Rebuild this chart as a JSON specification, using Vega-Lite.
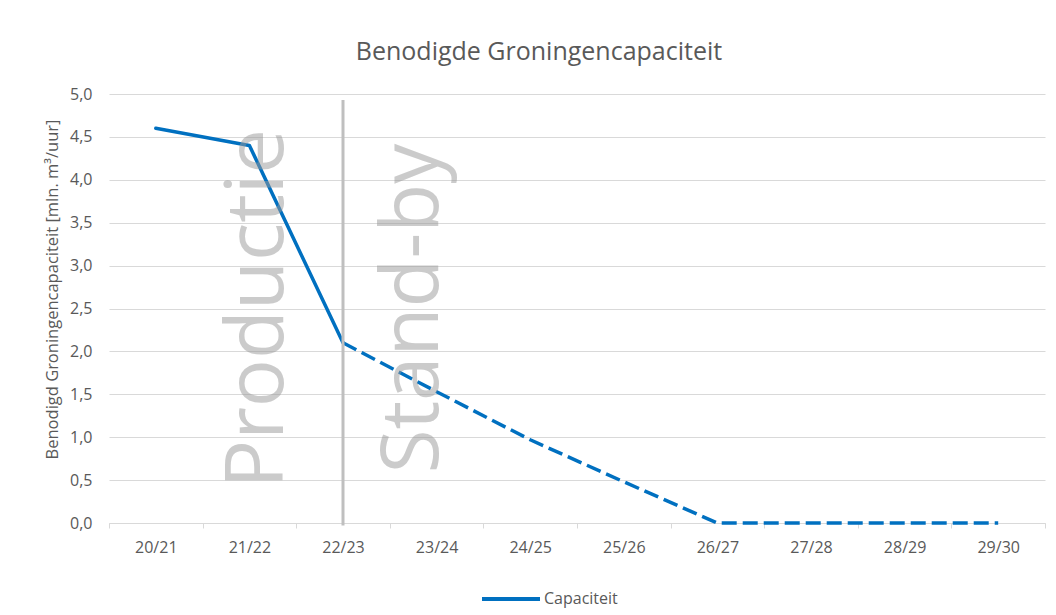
{
  "$schema": "https://vega.github.io/schema/vega-lite/v6.json",
  "autosize": {"type": "none"},
  "width": 936,
  "height": 429,
  "padding": {"left": 109, "top": 94, "right": 11, "bottom": 92},
  "background": "white",
  "title": {
    "text": "Benodigde Groningencapaciteit",
    "fontSize": 25,
    "font": "Open Sans",
    "fontWeight": "normal",
    "color": "#595959",
    "anchor": "middle",
    "frame": "group",
    "dx": -38,
    "baseline": "alphabetic",
    "offset": 1
  },
  "datasets": {
    "capaciteit": [
      {"jaar": "20/21", "waarde": 4.6, "deel": "productie"},
      {"jaar": "21/22", "waarde": 4.4, "deel": "productie"},
      {"jaar": "22/23", "waarde": 2.1, "deel": "productie"},
      {"jaar": "22/23", "waarde": 2.1, "deel": "standby"},
      {"jaar": "23/24", "waarde": 1.53, "deel": "standby"},
      {"jaar": "24/25", "waarde": 0.97, "deel": "standby"},
      {"jaar": "25/26", "waarde": 0.48, "deel": "standby"},
      {"jaar": "26/27", "waarde": 0, "deel": "standby"},
      {"jaar": "27/28", "waarde": 0, "deel": "standby"},
      {"jaar": "28/29", "waarde": 0, "deel": "standby"},
      {"jaar": "29/30", "waarde": 0, "deel": "standby"}
    ],
    "scheiding": [
      {"jaar": "22/23", "boven": 4.93, "onder": -0.03}
    ],
    "labels": [
      {"jaar": "21/22", "waarde": 2.5, "label": "Productie"},
      {"jaar": "23/24", "waarde": 2.5, "label": "Stand-by"}
    ]
  },
  "encoding": {
    "x": {
      "field": "jaar",
      "type": "nominal",
      "sort": null,
      "scale": {
        "type": "band",
        "domain": ["20/21", "21/22", "22/23", "23/24", "24/25", "25/26", "26/27", "27/28", "28/29", "29/30"],
        "paddingInner": 0,
        "paddingOuter": 0
      },
      "axis": {
        "title": null,
        "orient": "bottom",
        "labelAngle": 0,
        "tickBand": "extent",
        "grid": false,
        "domainColor": "#D9D9D9",
        "domainWidth": 1,
        "tickColor": "#D9D9D9",
        "tickSize": 5,
        "labelFontSize": 16,
        "labelColor": "#595959",
        "labelPadding": 11
      }
    }
  },
  "layer": [
    {
      "data": {"name": "capaciteit"},
      "transform": [{"filter": "datum.deel === 'productie'"}],
      "mark": {"type": "line", "strokeWidth": 3.5, "strokeJoin": "round", "strokeCap": "round"},
      "encoding": {
        "y": {
          "field": "waarde",
          "type": "quantitative",
          "scale": {"domain": [0, 5], "nice": false, "zero": true},
          "axis": {
            "title": "Benodigd Groningencapaciteit [mln. m³/uur]",
            "titleFontSize": 16.5,
            "titleFontWeight": "normal",
            "titleColor": "#595959",
            "titleAngle": -90,
            "titleAlign": "center",
            "titleBaseline": "middle",
            "titleX": -57,
            "titleY": 195,
            "values": [0, 0.5, 1, 1.5, 2, 2.5, 3, 3.5, 4, 4.5, 5],
            "labelExpr": "replace(format(datum.value, '.1f'), '.', ',')",
            "labelFontSize": 16,
            "labelColor": "#595959",
            "labelPadding": 17,
            "ticks": false,
            "domain": false,
            "grid": true,
            "gridColor": "#D9D9D9",
            "gridWidth": 1
          }
        },
        "stroke": {
          "datum": "Capaciteit",
          "type": "nominal",
          "scale": {"domain": ["Capaciteit"], "range": ["#0070C0"]},
          "legend": {
            "title": null,
            "orient": "none",
            "legendX": 371,
            "legendY": 474,
            "direction": "horizontal",
            "symbolType": "stroke",
            "symbolSize": 3364,
            "symbolStrokeWidth": 4,
            "labelFontSize": 16,
            "labelColor": "#595959",
            "labelOffset": 2,
            "padding": 0
          }
        }
      }
    },
    {
      "data": {"name": "capaciteit"},
      "transform": [{"filter": "datum.deel === 'standby'"}],
      "mark": {"type": "line", "strokeWidth": 3.5, "color": "#0070C0", "strokeDash": [15, 6], "strokeJoin": "round"},
      "encoding": {
        "y": {"field": "waarde", "type": "quantitative"}
      }
    },
    {
      "data": {"name": "scheiding"},
      "mark": {"type": "rule", "color": "#BFBFBF", "strokeWidth": 3},
      "encoding": {
        "y": {"field": "boven", "type": "quantitative"},
        "y2": {"field": "onder"}
      }
    },
    {
      "data": {"name": "labels"},
      "transform": [{"filter": "datum.label === 'Productie'"}],
      "mark": {"type": "text", "angle": 270, "fontSize": 80, "font": "Open Sans", "fill": "#999999", "opacity": 0.5, "align": "center", "baseline": "alphabetic", "dy": 34},
      "encoding": {
        "y": {"field": "waarde", "type": "quantitative"},
        "text": {"field": "label"}
      }
    },
    {
      "data": {"name": "labels"},
      "transform": [{"filter": "datum.label === 'Stand-by'"}],
      "mark": {"type": "text", "angle": 270, "fontSize": 80, "font": "Open Sans", "fill": "#999999", "opacity": 0.5, "align": "center", "baseline": "alphabetic", "dy": 1},
      "encoding": {
        "y": {"field": "waarde", "type": "quantitative"},
        "text": {"field": "label"}
      }
    }
  ],
  "config": {
    "font": "Open Sans",
    "view": {"stroke": null}
  }
}
